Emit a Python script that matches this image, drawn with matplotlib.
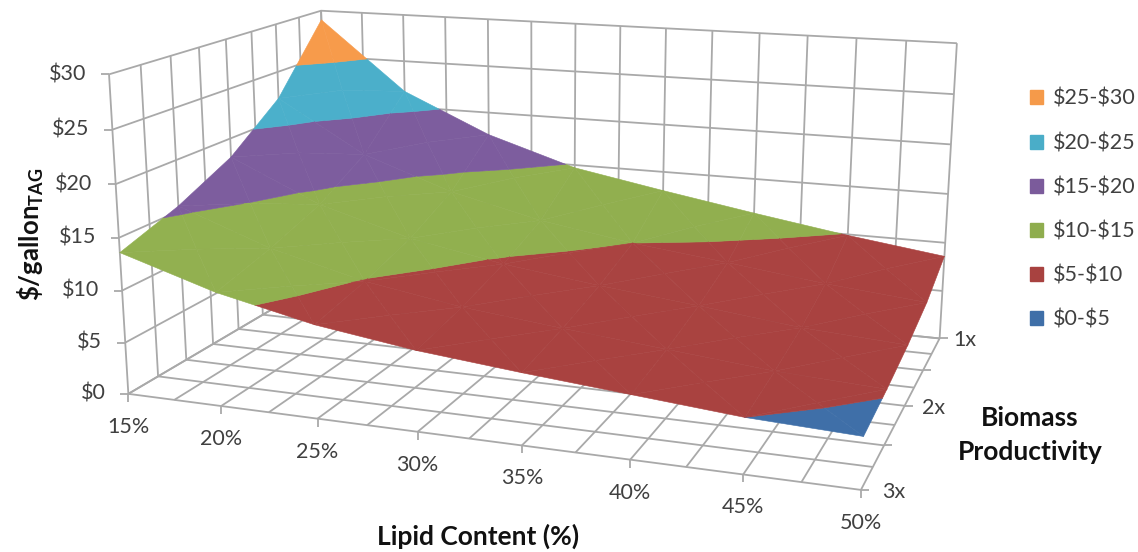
"""Surface chart of TAG cost against lipid content and biomass productivity."""

import matplotlib

matplotlib.use("Agg")
import matplotlib.pyplot as plt
import numpy as np
from matplotlib.collections import LineCollection, PolyCollection
from matplotlib.patches import Patch

plt.rcParams["font.family"] = ["Lato", "DejaVu Sans"]
plt.rcParams["mathtext.default"] = "regular"

lipid_labels = ["15%", "20%", "25%", "30%", "35%", "40%", "45%", "50%"]
productivity_labels = ["3x", "2x", "1x"]
cost_ticks = [0, 5, 10, 15, 20, 25, 30]

# $/gallon, one value per lipid label, front row (3x) first
cost_row_3x = [13.6, 10.8, 8.8, 7.5, 6.6, 5.8, 5.0, 4.6]
cost_row_25x = [15.5, 12.2, 9.9, 8.4, 7.4, 6.5, 5.6, 5.1]
cost_row_2x = [18.1, 14.0, 11.4, 9.7, 8.5, 7.5, 6.4, 5.8]
cost_row_15x = [22.2, 16.9, 13.7, 11.5, 10.0, 8.9, 7.7, 6.8]
cost_row_1x = [29.0, 21.7, 17.6, 14.7, 13.0, 11.4, 9.9, 8.6]

band_edges = [0, 5, 10, 15, 20, 25, 30]
band_colors = ["#3f6fa8", "#a84240", "#8fad4e", "#7b5b9b", "#4aadc8", "#f59a4a"]
band_labels = ["\\$0-\\$5", "\\$5-\\$10", "\\$10-\\$15", "\\$15-\\$20", "\\$20-\\$25", "\\$25-\\$30"]

GRID_COLOR = "#a9a9a9"
TEXT_COLOR = "#404040"
TITLE_COLOR = "#111111"

# gridlines fall at half the data spacing in both directions
N_XSTEPS = 14
N_YSTEPS = 8

# chart corners and ticks as measured on the picture, (x step, row step, $) -> pixel
CAL_WORLD = np.array([
    (0, 0, 0), (0, 0, 30), (0, 8, 30), (0, 8, 0), (14, 8, 30), (14, 8, 0), (14, 0, 0),
    (2, 0, 0), (4, 0, 0), (6, 0, 0), (12, 0, 0), (0, 4, 0),
], dtype=float)
CAL_PIXEL = np.array([
    (128, 394), (109, 73), (321, 12), (329, 275), (957, 43), (940, 338), (860, 490),
    (222, 406), (318, 419), (418, 432), (743, 475), (238, 329),
], dtype=float)


def fit_camera(world, pixel):
    """Least squares 3x4 camera matrix from point pairs."""
    rows = []
    for (x, y, z), (u, v) in zip(world, pixel):
        rows.append([x, y, z, 1, 0, 0, 0, 0, -u * x, -u * y, -u * z, -u])
        rows.append([0, 0, 0, 0, x, y, z, 1, -v * x, -v * y, -v * z, -v])
    _, _, vt = np.linalg.svd(np.array(rows))
    return vt[-1].reshape(3, 4)


CAMERA = fit_camera(CAL_WORLD, CAL_PIXEL)


def project(x, y, z):
    p = CAMERA @ np.array([x, y, z, 1.0])
    return p[0] / p[2], p[1] / p[2]


def clip_band(poly, lo, hi):
    """Clip a polygon of (x, y, z) points to lo <= z <= hi."""
    for sign, limit in ((1, lo), (-1, hi)):
        out = []
        for a, b in zip(poly, poly[1:] + poly[:1]):
            da = sign * (a[2] - limit)
            db = sign * (b[2] - limit)
            if da >= 0:
                out.append(a)
            if da * db < 0:
                t = da / (da - db)
                out.append(tuple(a[k] + t * (b[k] - a[k]) for k in range(3)))
        poly = out
        if not poly:
            break
    return poly


def shade(tri):
    """Brightness factor per facet, from its slope."""
    a, b, c = [np.array(p) * (1 / 14, 1 / 8, 1 / 30) for p in tri]
    n = np.cross(b - a, c - a)
    n = n / np.linalg.norm(n)
    if n[2] < 0:
        n = -n
    light = np.array([0.6, -0.2, 0.77])
    return 1.0 + 0.14 * (float(n @ light) - 0.85)


cost = np.array([cost_row_3x, cost_row_25x, cost_row_2x, cost_row_15x, cost_row_1x])
n_rows, n_cols = cost.shape

fig = plt.figure(figsize=(11.38, 5.52), dpi=100)
ax = fig.add_axes([0, 0, 1, 1])
ax.set_xlim(0, 1138)
ax.set_ylim(552, 0)
ax.axis("off")

# walls, floor and ticks
grid = []
for z in cost_ticks:
    grid.append([project(0, 0, z), project(0, N_YSTEPS, z), project(N_XSTEPS, N_YSTEPS, z)])
for i in range(N_XSTEPS + 1):
    grid.append([project(i, N_YSTEPS, 30), project(i, N_YSTEPS, 0), project(i, 0, 0)])
for j in range(N_YSTEPS + 1):
    grid.append([project(0, j, 30), project(0, j, 0), project(N_XSTEPS, j, 0)])
ticks = []
for z in cost_ticks:
    px, py = project(0, 0, z)
    ticks.append([(px - 8, py), (px, py)])
for i in range(0, N_XSTEPS + 1, 2):
    px, py = project(i, 0, 0)
    ticks.append([(px, py), (px, py + 8)])
for j in range(0, N_YSTEPS + 1, 2):
    px, py = project(N_XSTEPS, j, 0)
    ticks.append([(px, py), (px + 8, py)])
ax.add_collection(LineCollection(grid + ticks, colors=GRID_COLOR, linewidths=1.3, zorder=1))

# surface facets, back row first so nearer facets paint over farther ones
polys = []
colors = []
for j in range(n_rows - 2, -1, -1):
    for i in range(n_cols - 1):
        x0, x1 = 2 * i, 2 * i + 2
        y0, y1 = 2 * j, 2 * j + 2
        corners = [
            (x0, y0, cost[j, i]),
            (x1, y0, cost[j, i + 1]),
            (x1, y1, cost[j + 1, i + 1]),
            (x0, y1, cost[j + 1, i]),
        ]
        centre = (x0 + 1, y0 + 1, float(cost[j:j + 2, i:i + 2].mean()))
        for k in (2, 1, 3, 0):
            tri = [corners[k], corners[(k + 1) % 4], centre]
            factor = shade(tri)
            for lo, hi, base in zip(band_edges, band_edges[1:], band_colors):
                piece = clip_band(tri, lo, hi)
                if len(piece) < 3:
                    continue
                rgb = np.clip(np.array(matplotlib.colors.to_rgb(base)) * factor, 0, 1)
                polys.append([project(*p) for p in piece])
                colors.append(rgb)
ax.add_collection(PolyCollection(polys, facecolors=colors, edgecolors=colors, linewidths=0.4, zorder=2))

# tick labels
for z in cost_ticks:
    px, py = project(0, 0, z)
    ax.text(px - 23, py, f"\\${z}", ha="right", va="center", fontsize=15.5, color=TEXT_COLOR)
for i, label in zip(range(0, N_XSTEPS + 1, 2), lipid_labels):
    px, py = project(i, 0, 0)
    ax.text(px, py + 33, label, ha="center", va="center", fontsize=15.5, color=TEXT_COLOR)
for j, label in zip(range(0, N_YSTEPS + 1, 4), productivity_labels):
    px, py = project(N_XSTEPS, j, 0)
    ax.text(px + 33 - j, py + 2, label, ha="center", va="center", fontsize=15.5, color=TEXT_COLOR)

# axis titles
ax.text(478, 536, "Lipid Content (%)", ha="center", va="center", fontsize=19, fontweight="bold", color=TITLE_COLOR)
ax.text(1030, 435, "Biomass\nProductivity", ha="center", va="center", fontsize=19, fontweight="bold",
        color=TITLE_COLOR, linespacing=1.5)
ax.text(31, 234, "\\$/gallon$_{TAG}$", ha="center", va="center", rotation=90, fontsize=18.5, fontweight="bold",
        color=TITLE_COLOR)

# legend, highest band on top
handles = [Patch(facecolor=c, edgecolor=c) for c in band_colors[::-1]]
ax.legend(handles, band_labels[::-1], loc="upper left", bbox_to_anchor=(1030 / 1138, 1 - 89 / 552),
          frameon=False, fontsize=15.5, labelcolor=TEXT_COLOR, handlelength=0.62, handleheight=0.62,
          handletextpad=0.45, labelspacing=1.12, borderpad=0, borderaxespad=0)

fig.savefig("out.png", dpi=100)
